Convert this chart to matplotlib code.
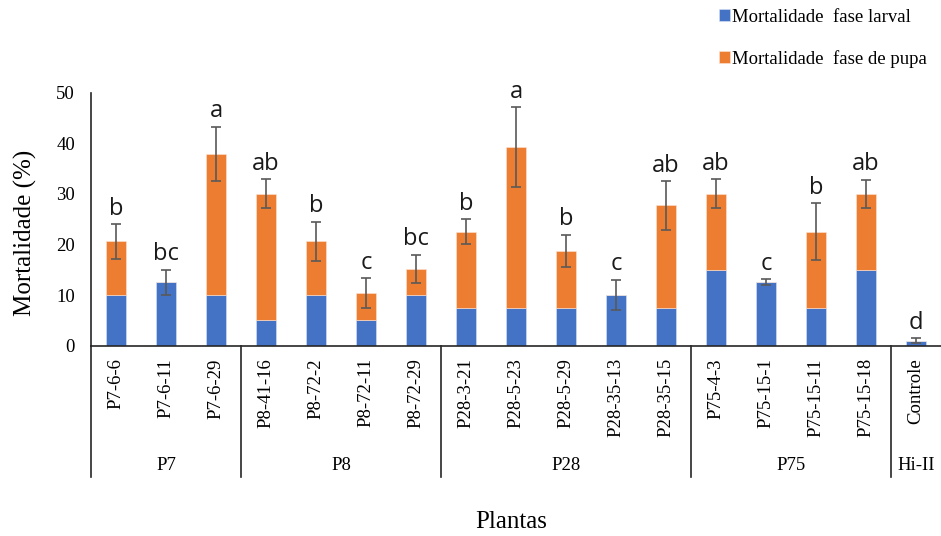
import matplotlib
matplotlib.use("Agg")
import matplotlib.pyplot as plt
import matplotlib.transforms as mtransforms
import numpy as np

# Plant lines and their parent groups
plants = ["P7-6-6", "P7-6-11", "P7-6-29",
          "P8-41-16", "P8-72-2", "P8-72-11", "P8-72-29",
          "P28-3-21", "P28-5-23", "P28-5-29", "P28-35-13", "P28-35-15",
          "P75-4-3", "P75-15-1", "P75-15-11", "P75-15-18",
          "Controle"]
groups = ["P7", "P8", "P28", "P75", "Hi-II"]
group_sizes = [3, 4, 5, 4, 1]

# Mortality (%) per phase
larval = [10, 12.5, 10,
          5, 10, 5, 10,
          7.5, 7.5, 7.5, 10, 7.5,
          15, 12.5, 7.5, 15,
          1]
pupal = [10.6, 0, 27.9,
         25, 10.6, 5.4, 5.2,
         15, 31.7, 11.2, 0, 20.2,
         15, 0, 15, 15,
         0]
errors = [3.4, 2.5, 5.3,
          2.9, 3.9, 2.9, 2.8,
          2.5, 7.9, 3.2, 3.0, 4.8,
          2.9, 0.6, 5.6, 2.8,
          0.5]
letters = ["b", "bc", "a",
           "ab", "b", "c", "bc",
           "b", "a", "b", "c", "ab",
           "ab", "c", "b", "ab",
           "d"]

blue = "#4472C4"
orange = "#ED7D31"
serif = ["Liberation Serif", "DejaVu Serif"]

plt.rcParams["font.family"] = serif

fig = plt.figure(figsize=(9.41, 5.36), dpi=100)
ax = fig.add_axes([91 / 941, 1 - 345.7 / 536, 850 / 941, 253.2 / 536])

x = np.arange(len(plants))
larval = np.array(larval)
pupal = np.array(pupal)
total = larval + pupal

ax.bar(x, larval, width=0.39, color=blue, label="Mortalidade  fase larval",
       edgecolor="#DAE3F3", linewidth=0.4, zorder=2)
ax.bar(x, pupal, bottom=larval, width=0.39, color=orange,
       label="Mortalidade  fase de pupa",
       edgecolor="#FBE5D6", linewidth=0.4, zorder=2)
ax.errorbar(x, total, yerr=errors, fmt="none", ecolor="#595959",
            elinewidth=1.2, capsize=3.3, capthick=1.2, zorder=3)

for xi, top, err, lab in zip(x, total, errors, letters):
    ax.annotate(lab, (xi, top + err), xytext=(0, 2.5), textcoords="offset points",
                ha="center", va="bottom", fontsize=17,
                family=["Open Sans", "DejaVu Sans"], color="#1a1a1a")

ax.set_xlim(-0.5, len(plants) - 0.5)
ax.set_ylim(0, 50)
ax.set_yticks(np.arange(0, 51, 10))
ax.tick_params(axis="y", length=0, pad=11.5, labelsize=13.5)
ax.set_xticks(x)
ax.set_xticklabels(plants, rotation=90, fontsize=13.5)
ax.tick_params(axis="x", length=0, pad=9)
for side in ("top", "right"):
    ax.spines[side].set_visible(False)
ax.spines["left"].set_color("#262626")
ax.spines["bottom"].set_color("#262626")
ax.spines["left"].set_linewidth(1.2)
ax.spines["bottom"].set_linewidth(1.2)

# Group separators and group names under the tick labels
trans = mtransforms.blended_transform_factory(ax.transData, ax.transAxes)
bounds = np.concatenate([[0], np.cumsum(group_sizes)]) - 0.5
sep_bottom = -(477 - 345.7) / 253.2
for b in bounds[:-1]:
    ax.plot([b, b], [0, sep_bottom], transform=trans, color="#262626",
            lw=1.2, clip_on=False)
label_y = -(465 - 345.7) / 253.2
for g, lo, hi in zip(groups, bounds[:-1], bounds[1:]):
    ax.text((lo + hi) / 2, label_y, g, transform=trans, ha="center",
            va="center", fontsize=13.5)

fig.text(91 / 941 + 0.5 * 850 / 941 - 0.005, 1 - 522 / 536, "Plantas",
         ha="center", va="center", fontsize=18)
fig.text(25 / 941, 1 - 233 / 536, "Mortalidade (%)", rotation=90,
         ha="center", va="center", fontsize=18)

fig.legend(loc="upper left", bbox_to_anchor=(711 / 941, 1 - 1 / 536),
           frameon=False, fontsize=13.5, handlelength=0.62, handleheight=0.62,
           handletextpad=0.12, labelspacing=1.3, borderaxespad=0)

fig.savefig("out.png", dpi=100)
